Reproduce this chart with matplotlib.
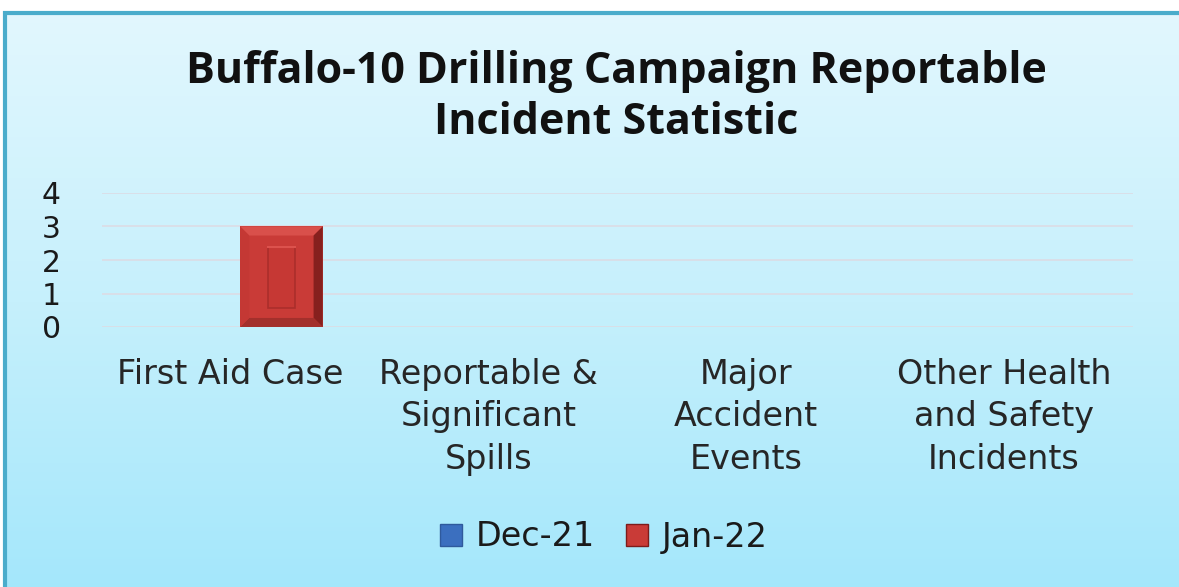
import numpy as np
import matplotlib
matplotlib.use("Agg")
import matplotlib.pyplot as plt
from matplotlib.patches import Polygon, Rectangle
from matplotlib.colors import LinearSegmentedColormap

categories = ["First Aid Case", "Reportable &\nSignificant\nSpills", "Major\nAccident\nEvents",
              "Other Health\nand Safety\nIncidents"]
series_names = ["Dec-21", "Jan-22"]
dec21 = [0, 0, 0, 0]
jan22 = [3, 0, 0, 0]
yticks = [0, 1, 2, 3, 4]
title = "Buffalo-10 Drilling Campaign Reportable\nIncident Statistic"

W, H = 1179, 587
fig = plt.figure(figsize=(W / 100, H / 100), dpi=100)
fig.patch.set_facecolor("white")

# background gradient panel
bg = fig.add_axes([0, 0, 1, 1])
bg.set_xlim(0, W)
bg.set_ylim(H, 0)
bg.axis("off")
cmap = LinearSegmentedColormap.from_list("g", ["#e2f7fe", "#c6f0fc", "#a4e7fb"])
grad = np.linspace(0, 1, 256).reshape(-1, 1)
bg.imshow(grad, cmap=cmap, aspect="auto", extent=[5, W + 5, H + 5, 12], zorder=0)
bg.plot([5, 5, W + 5], [H + 5, 13, 13], color="#4aaccb", lw=3, zorder=1, solid_joinstyle="miter")

ax = fig.add_axes([101.7 / W, 1 - 327 / H, (1133 - 101.7) / W, (327 - 193) / H])
ax.patch.set_alpha(0)
x = np.arange(len(categories))
bw = 0.32
off = 0.197
ax.bar(x - off, dec21, width=bw, color="#3b6fbf", zorder=3)
bars = ax.bar(x + off, jan22, width=bw, color="#c93b37", edgecolor="none", zorder=3)

# bevel decoration derived from bar geometry
for b in bars:
    h = b.get_height()
    if h <= 0:
        continue
    x0, y0, w = b.get_x(), b.get_y(), b.get_width()
    x1, y1 = x0 + w, y0 + h
    bx = w * 0.11
    by = 0.27
    top = Polygon([[x0, y1], [x1, y1], [x1 - bx, y1 - by], [x0 + bx, y1 - by]], closed=True,
                  facecolor="#d9504b", edgecolor="none", zorder=4)
    right = Polygon([[x1, y1], [x1, y0], [x1 - bx, y0 + by], [x1 - bx, y1 - by]], closed=True,
                    facecolor="#86201e", edgecolor="none", zorder=4)
    bottom = Polygon([[x0, y0], [x1, y0], [x1 - bx, y0 + by], [x0 + bx, y0 + by]], closed=True,
                     facecolor="#a3302c", edgecolor="none", zorder=4)
    left = Polygon([[x0, y0], [x0, y1], [x0 + bx, y1 - by], [x0 + bx, y0 + by]], closed=True,
                   facecolor="#c43834", edgecolor="none", zorder=4)
    for p in (top, right, bottom, left):
        ax.add_patch(p)
    ix0 = x0 + w * 0.34
    ix1 = x0 + w * 0.66
    iy0 = y0 + h * 0.19
    iy1 = y1 - h * 0.20
    ax.add_patch(Rectangle((ix0, iy0), ix1 - ix0, iy1 - iy0, facecolor="#c63834",
                           edgecolor="#ab2e2b", lw=1.2, zorder=5))
    ax.plot([ix0, ix1], [iy1, iy1], color="#dc524d", lw=1.5, zorder=6)

ax.set_xlim(-0.5, len(categories) - 0.5)
ax.set_ylim(0, 4)
ax.set_yticks(yticks)
ax.set_yticklabels([str(t) for t in yticks], fontsize=21.5, color="#1a1a1a", family="DejaVu Sans")
ax.set_xticks(x)
ax.set_xticklabels(categories, fontsize=24, color="#262626", family="DejaVu Sans", linespacing=1.38,
                   va="top")
ax.tick_params(axis="both", length=0)
ax.tick_params(axis="x", pad=22)
for lab in ax.get_yticklabels():
    lab.set_horizontalalignment("left")
    lab.set_x(-0.058)
ax.tick_params(axis="y", pad=0)
ax.grid(axis="y", color="#dcdce4", lw=1.2, zorder=1)
for s in ax.spines.values():
    s.set_visible(False)

fig.text(616 / W, 1 - 97 / H, title, ha="center", va="center", fontsize=31, fontweight="bold",
         family="Open Sans", color="#111111", linespacing=1.22)

h1 = Rectangle((0, 0), 1, 1, facecolor="#3b6fbf", edgecolor="#2f5a9c")
h2 = Rectangle((0, 0), 1, 1, facecolor="#c93b37", edgecolor="#7d1c1b")
leg = fig.legend([h1, h2], series_names, loc="center", bbox_to_anchor=(604 / W, 1 - 537 / H),
                 ncol=2, frameon=False, prop={"family": "DejaVu Sans", "size": 24},
                 handlelength=0.66, handleheight=0.66, handletextpad=0.4, columnspacing=0.95)
for t in leg.get_texts():
    t.set_color("#1a1a1a")

fig.savefig("out.png", dpi=100)
